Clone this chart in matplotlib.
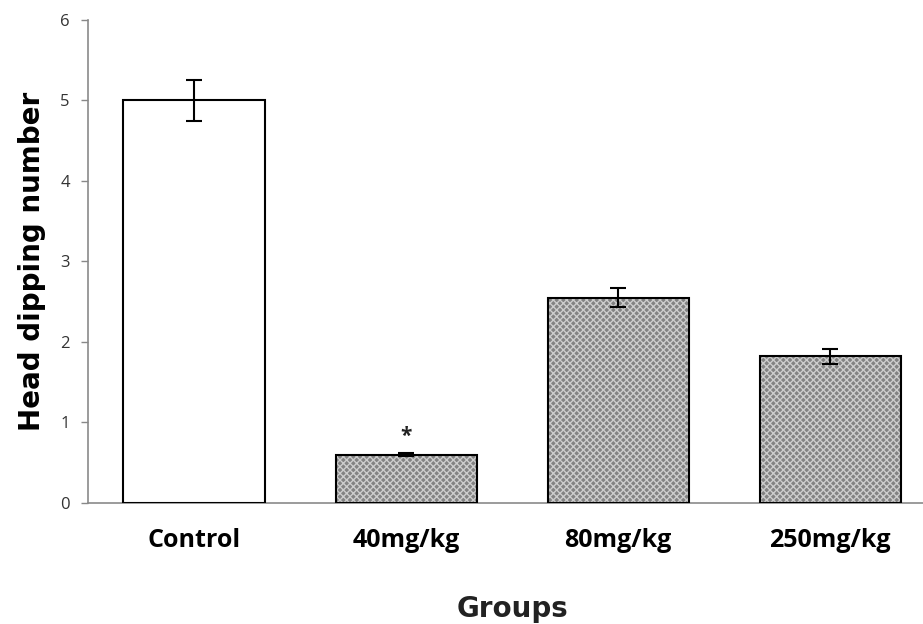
import numpy as np
import matplotlib.pyplot as plt

# ------------------------------------------------------------
# Data
# ------------------------------------------------------------
groups = ["Control", "40mg/kg", "80mg/kg", "250mg/kg"]
means = [5.0, 0.6, 2.55, 1.82]
errors = [0.25, 0.02, 0.12, 0.09]
significant = [False, True, False, False]

plt.rcParams["font.family"] = ["Open Sans", "DejaVu Sans"]
plt.rcParams["hatch.linewidth"] = 1.0

fig = plt.figure(figsize=(9.23, 6.24), dpi=100)
ax = fig.add_axes([0.0953, 0.194, 0.919, 0.774])

x = np.arange(len(groups))
width = 0.665

# patterned fill for the treated groups, plain white for control
fills = ["white" if g == "Control" else "#828282" for g in groups]
hatches = ["" if g == "Control" else "xxxxx" for g in groups]
for xi, m, fc, h in zip(x, means, fills, hatches):
    ax.bar(xi, m, width, color=fc, edgecolor="#cccccc", hatch=h, linewidth=0, zorder=2)

ax.bar(x, means, width, fill=False, edgecolor="black", linewidth=1.5, zorder=3)

ax.errorbar(x, means, yerr=errors, fmt="none", ecolor="black",
            elinewidth=1.5, capsize=5.5, capthick=1.5, zorder=4)

for xi, m, e, s in zip(x, means, errors, significant):
    if s:
        ax.text(xi, m + e + 0.2, "*", ha="center", va="center",
                fontsize=15, fontweight="bold", color="#222222")

ax.set_xlim(-0.5, 3.5)
ax.set_ylim(0, 6)
ax.set_yticks(range(0, 7))
ax.set_xticks(x)
ax.set_xticklabels(groups, fontsize=18, fontweight="bold")
ax.tick_params(axis="x", length=0, pad=18)
ax.tick_params(axis="y", length=5, width=1, colors="#888888",
               labelcolor="#333333", labelsize=12, direction="out", pad=8)

for side in ["top", "right"]:
    ax.spines[side].set_visible(False)
for side in ["left", "bottom"]:
    ax.spines[side].set_color("#8a8a8a")
    ax.spines[side].set_linewidth(1.2)

ax.set_ylabel("Head dipping number", fontsize=20, fontweight="bold",
              family="DejaVu Sans", labelpad=10)
ax.set_xlabel("Groups", fontsize=20, fontweight="bold", family="DejaVu Sans",
              labelpad=30, color="#222222")

fig.savefig("out.png", dpi=100)
